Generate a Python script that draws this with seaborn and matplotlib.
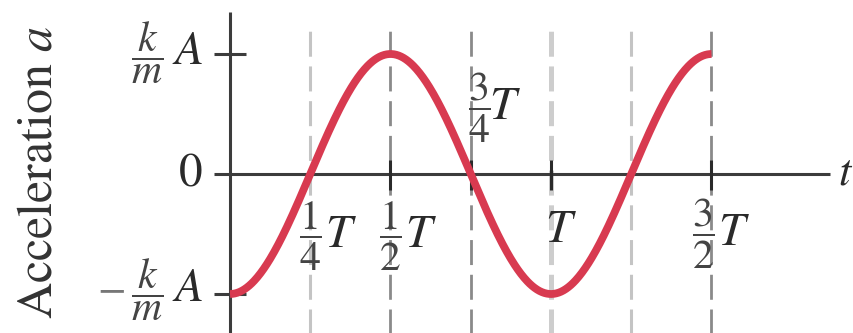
import numpy as np
import pandas as pd
import matplotlib
matplotlib.use("Agg")
import matplotlib.pyplot as plt
import seaborn as sns

# Acceleration of a mass on a spring: a(t) = -(k/m) A cos(2*pi*t/T)
period = 1.0          # T
amplitude = 1.0       # (k/m) A
t_end = 1.5           # curve drawn from 0 to 3T/2

# Reference time marks (in units of T)
guide_times = [0.25, 0.5, 0.75, 1.0, 1.25, 1.5]
guide_colors = ["#c4c4c4", "#8a8a8a", "#8a8a8a", "#cdcdcd", "#c4c4c4", "#8a8a8a"]
guide_widths = [2.2, 2.0, 2.0, 3.6, 2.2, 2.0]
tick_times = [0.5, 0.75, 1.0, 1.5]

# time labels: fraction part and symbol part
x_fracs = [r"$\dfrac{1}{4}$", r"$\dfrac{1}{2}$", r"$\dfrac{3}{4}$", "", r"$\dfrac{3}{2}$"]
x_syms = [r"$T$", r"$T$", r"$T$", r"$T$", r"$T$"]
x_label_times = [0.25, 0.5, 0.75, 1.0, 1.5]

y_levels = [1.0, 0.0, -1.0]
y_signs = ["", "", r"$-$"]
y_fracs = [r"$\dfrac{k}{m}$", "", r"$\dfrac{k}{m}$"]
y_syms = [r"$A$", r"$0$", r"$A$"]

t = np.linspace(0.0, t_end, 600)
df = pd.DataFrame({"t": t, "a": -amplitude * np.cos(2 * np.pi * t / period)})

sns.set_style("white")
plt.rcParams["mathtext.fontset"] = "stix"
plt.rcParams["font.family"] = ["STIXGeneral", "DejaVu Serif"]
plt.rcParams["lines.scale_dashes"] = False

W, H = 854, 333
X0, Y0, SX, SY = 230, 174, 321, 120   # pixel origin and scale of the plot


def px(x):
    return (x - X0) / SX


def py(y):
    return (Y0 - y) / SY


fig = plt.figure(figsize=(W / 100, H / 100), dpi=100)
ax = fig.add_axes([0, 0, 1, 1])
ax.set_xlim(px(0), px(W))
ax.set_ylim(py(H), py(0))
ax.axis("off")

axis_color = "#3c3c3c"
text_color = "#2a2a2a"
frac_color = "#444444"

# dashed guides
for tg, c, w in zip(guide_times, guide_colors, guide_widths):
    ax.vlines(tg, py(H + 10), py(22), colors=c, linewidth=w,
              linestyles=(0, (18, 7)), zorder=1)

# axes and ticks
ax.hlines(0, px(214), px(830), colors=axis_color, linewidth=2.2, zorder=2)
ax.vlines(0, py(H + 10), py(12), colors=axis_color, linewidth=2.2, zorder=2)
for yl in (1.0, -1.0):
    ax.hlines(yl, px(214), px(246), colors=axis_color, linewidth=2.2, zorder=2)
for tt in tick_times:
    ax.vlines(tt, py(190), py(160), colors="#2a2a2a", linewidth=2.2, zorder=2)

# curve
sns.lineplot(data=df, x="t", y="a", ax=ax, color="#d83a50", linewidth=5.6,
             legend=False, zorder=3, solid_capstyle="butt")
ax.axis("off")

# time labels (pixel layout of fraction centre, symbol left edge, row centre)
x_layout = [(310, 325, 236), (390, 405, 236), (479, 489, 108), (None, 561, 231), (703, 718, 234)]
for fr, sym, (fx, sx, yc) in zip(x_fracs, x_syms, x_layout):
    if fr:
        ax.text(px(fx), py(yc), fr, fontsize=30, ha="center", va="center", color=frac_color)
        ax.text(px(sx), py(yc), sym, fontsize=34, ha="left", va="center", color=text_color)
    else:
        ax.text(px(sx), py(yc), sym, fontsize=34, ha="center", va="center", color=text_color)

# value labels
y_rows = [53, 174, 290]
for sgn, fr, sym, yr in zip(y_signs, y_fracs, y_syms, y_rows):
    ax.text(px(203), py(yr), sym, fontsize=34, ha="right", va="center", color=text_color)
    if fr:
        ax.text(px(147), py(yr), fr, fontsize=30, ha="center", va="center", color=frac_color)
    if sgn:
        ax.text(px(111), py(yr), sgn, fontsize=30, ha="center", va="center", color="#777777")

ax.text(px(838), 0.0, r"$t$", fontsize=32, ha="left", va="center", color=text_color)
ax.text(px(40), py(172), r"Acceleration $a$", fontsize=36, rotation=90,
        ha="center", va="center", color="#333333")

fig.savefig("out.png", dpi=100)
